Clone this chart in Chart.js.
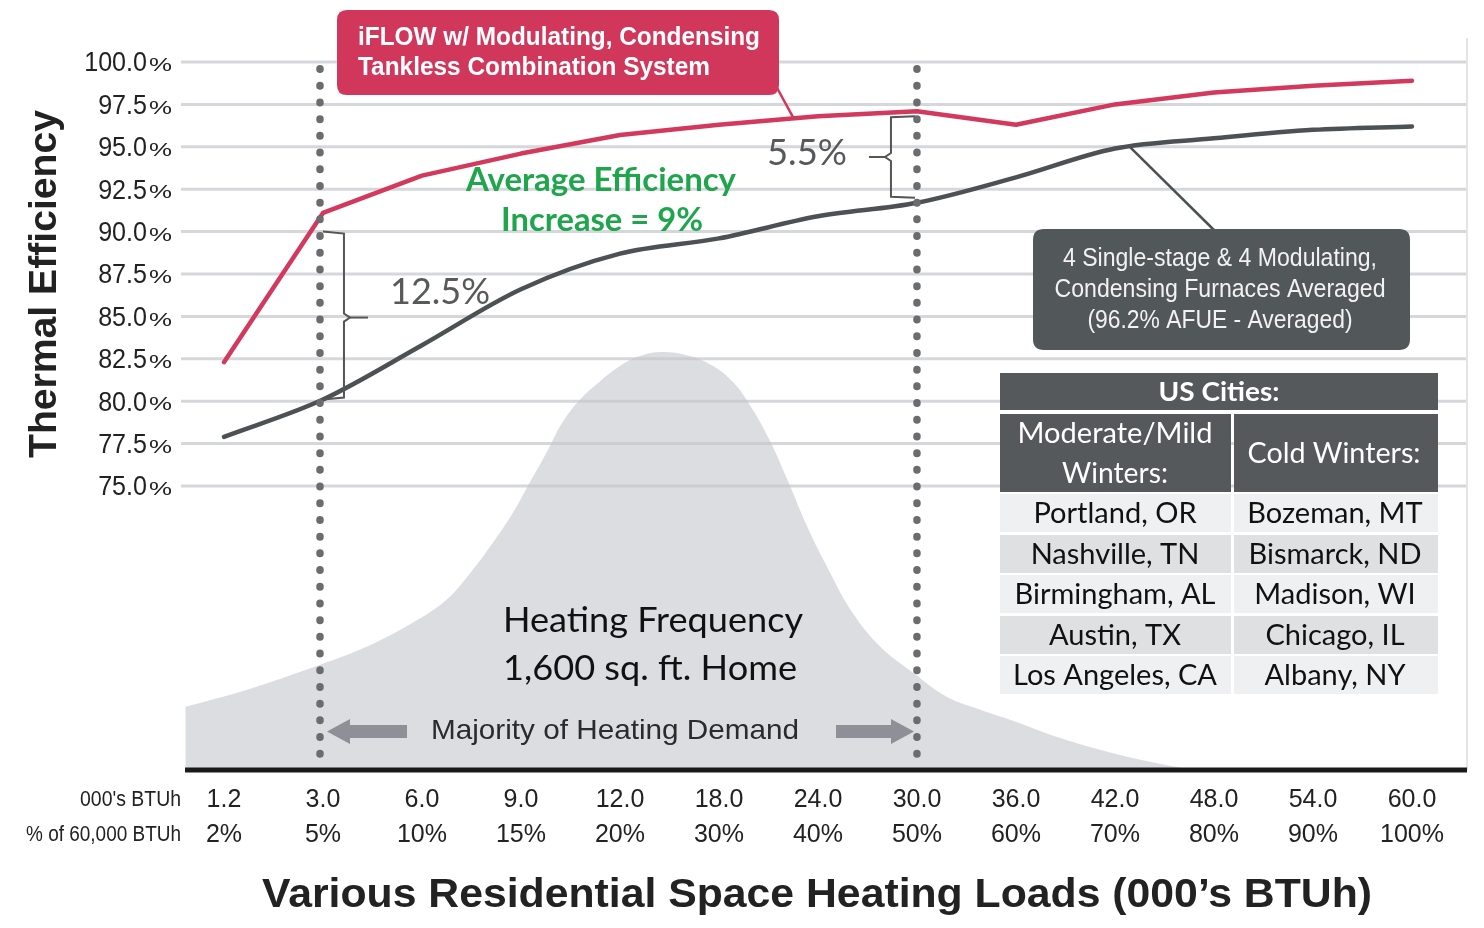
<!DOCTYPE html>
<html><head><meta charset="utf-8">
<script src="https://cdn.jsdelivr.net/npm/chart.js@4.4.1/dist/chart.umd.min.js"></script>
<style>html,body{margin:0;padding:0;background:#fff;overflow:hidden}#wrap{width:1484px;height:928px;position:relative}</style>
</head><body><div id="wrap"><canvas id="c" width="1484" height="928"></canvas></div>
<script>
// ---- data ----
const loadLabels = ['1.2','3.0','6.0','9.0','12.0','18.0','24.0','30.0','36.0','42.0','48.0','54.0','60.0'];
const pctLabels  = ['2%','5%','10%','15%','20%','30%','40%','50%','60%','70%','80%','90%','100%'];
const iflowEff   = [82.3, 91.1, 93.3, 94.6, 95.7, 96.3, 96.8, 97.1, 96.3, 97.5, 98.2, 98.6, 98.9];
const furnaceEff = [77.9, 80.1, 83.3, 86.6, 88.7, 89.6, 90.9, 91.7, 93.2, 94.9, 95.5, 96.0, 96.2];
const yTickValues = [75, 77.5, 80, 82.5, 85, 87.5, 90, 92.5, 95, 97.5, 100];
// heating frequency curve (relative, peak = 100) at category positions
const freqPos    = [-0.39, 0.23, 0.97, 1.44, 1.91, 2.25, 2.49, 2.69, 2.92, 3.09, 3.26, 3.42, 3.60, 3.80, 4.00, 4.20, 4.43, 4.71, 4.94, 5.11, 5.26, 5.49, 5.69, 5.89, 6.09, 6.35, 6.63, 6.96, 7.30, 7.64, 7.94, 8.44, 9.05, 9.62, 9.76];
const freqValues = [15.1, 19.2, 25.2, 29.5, 35.3, 40.8, 47.2, 53.5, 61.6, 68.8, 76.0, 83.2, 88.7, 93.0, 96.6, 99.0, 100, 99.0, 96.6, 93.5, 89.2, 79.9, 69.5, 58.3, 48.7, 37.6, 29.5, 23.3, 17.5, 14.4, 12.0, 7.7, 3.6, 0.7, 0];
const dividerIdx = [0.97, 7];
const gap12 = [1, 80.1, 90.0];   // position, low, high
const gap55 = [7, 91.7, 97.1];
const moderateCities = ['Portland, OR','Nashville, TN','Birmingham, AL','Austin, TX','Los Angeles, CA'];
const coldCities     = ['Bozeman, MT','Bismarck, ND','Madison, WI','Chicago, IL','Albany, NY'];

const SANS = '"Liberation Sans", Arial, sans-serif';
const CAL = 'Lato, "Open Sans", sans-serif';

function txt(ctx, s, x, y, font, color, align, fitW){
  ctx.save(); ctx.font = font; ctx.fillStyle = color; ctx.textBaseline = 'middle';
  ctx.textAlign = align || 'center';
  ctx.translate(x, y);
  if (fitW) { const w = ctx.measureText(s).width; ctx.scale(fitW / w, 1); }
  ctx.fillText(s, 0, 0);
  ctx.restore();
}
function rrect(ctx, x, y, w, h, r, fill){
  ctx.save(); ctx.beginPath();
  ctx.moveTo(x+r, y); ctx.lineTo(x+w-r, y); ctx.quadraticCurveTo(x+w, y, x+w, y+r);
  ctx.lineTo(x+w, y+h-r); ctx.quadraticCurveTo(x+w, y+h, x+w-r, y+h);
  ctx.lineTo(x+r, y+h); ctx.quadraticCurveTo(x, y+h, x, y+h-r);
  ctx.lineTo(x, y+r); ctx.quadraticCurveTo(x, y, x+r, y);
  ctx.closePath(); ctx.fillStyle = fill; ctx.fill(); ctx.restore();
}
function line(ctx, pts, color, w){
  ctx.save(); ctx.beginPath(); ctx.moveTo(pts[0][0], pts[0][1]);
  for (let i = 1; i < pts.length; i++) ctx.lineTo(pts[i][0], pts[i][1]);
  ctx.strokeStyle = color; ctx.lineWidth = w; ctx.lineJoin = 'miter'; ctx.stroke(); ctx.restore();
}

const decor = {
  id: 'decor',
  beforeDatasetsDraw(chart){
    const ctx = chart.ctx, ca = chart.chartArea, ys = chart.scales.y;
    ctx.save();
    ctx.strokeStyle = '#d6d7da'; ctx.lineWidth = 3;
    yTickValues.forEach(v => {
      const y = ys.getPixelForValue(v);
      ctx.beginPath(); ctx.moveTo(ca.left, y); ctx.lineTo(ca.right, y); ctx.stroke();
    });
    ctx.strokeStyle = '#e4e4e4'; ctx.lineWidth = 2;
    ctx.beginPath(); ctx.moveTo(ca.right, ca.top - 2); ctx.lineTo(ca.right, ca.bottom); ctx.stroke();
    ctx.restore();
  },
  afterDatasetsDraw(chart){
    const ctx = chart.ctx, ca = chart.chartArea, xs = chart.scales.x, ys = chart.scales.y;
    // dotted dividers
    ctx.save();
    ctx.strokeStyle = '#6b6c6f'; ctx.lineWidth = 7.5; ctx.lineCap = 'round'; ctx.setLineDash([0.5, 16.2]);
    dividerIdx.forEach(i => {
      const x = xs.getPixelForValue(i);
      ctx.beginPath(); ctx.moveTo(x, ys.getPixelForValue(99.6)); ctx.lineTo(x, ca.bottom - 6); ctx.stroke();
    });
    ctx.restore();
    // baseline
    line(ctx, [[ca.left + 4, ca.bottom], [ca.right, ca.bottom]], '#1a1a1a', 5);

    // y tick labels
    yTickValues.forEach(v => {
      const y = ys.getPixelForValue(v) + 2;
      txt(ctx, '%', 172, y + 2, '19px ' + SANS, '#222', 'right', 23);
      ctx.save(); ctx.font = '27px ' + SANS;
      const s = v.toFixed(1); const w = ctx.measureText(s).width; ctx.restore();
      txt(ctx, s, 147 - w * 0.93, y, '27px ' + SANS, '#222', 'left', w * 0.93);
    });
    // x tick labels
    loadLabels.forEach((s, i) => {
      const x = xs.getPixelForValue(i);
      txt(ctx, s, x, 800, '25px ' + SANS, '#222', 'center');
      txt(ctx, pctLabels[i], x, 835, '25px ' + SANS, '#222', 'center');
    });
    txt(ctx, "000's BTUh", 181, 800, '22px ' + SANS, '#222', 'right', 101);
    txt(ctx, '% of 60,000 BTUh', 181, 835, '22px ' + SANS, '#222', 'right', 155);
    // axis titles
    txt(ctx, "Various Residential Space Heating Loads (000\u2019s BTUh)", 817, 896, 'bold 40px ' + SANS, '#222', 'center', 1110);
    ctx.save(); ctx.translate(46, 284); ctx.rotate(-Math.PI / 2);
    txt(ctx, 'Thermal Efficiency', 0, 0, 'bold 38px ' + SANS, '#222', 'center', 348);
    ctx.restore();

    // red label box
    line(ctx, [[776, 86], [793, ys.getPixelForValue(97.1) + 6]], '#d1375b', 2.5);
    rrect(ctx, 337, 10, 442, 85, 10, '#d1375b');
    txt(ctx, 'iFLOW w/ Modulating, Condensing', 358, 38, 'bold 26px ' + SANS, '#fff', 'left', 402);
    txt(ctx, 'Tankless Combination System', 358, 68, 'bold 26px ' + SANS, '#fff', 'left', 352);

    // green text
    txt(ctx, 'Average Efficiency', 601, 180, 'bold 33px ' + CAL, '#1fa64c', 'center', 270);
    txt(ctx, 'Increase = 9%', 602, 220, 'bold 33px ' + CAL, '#1fa64c', 'center', 202);

    // brace 12.5%
    {
      const x0 = xs.getPixelForValue(gap12[0]);
      const yt = ys.getPixelForValue(gap12[2]), yb = ys.getPixelForValue(gap12[1]);
      const ym = (yt + yb) / 2 + 2;
      line(ctx, [[x0, yt], [x0 + 21, yt + 2], [x0 + 21, ym - 4], [x0 + 27, ym], [x0 + 21, ym + 4], [x0 + 21, yb - 2], [x0, yb]], '#555', 2);
      line(ctx, [[x0 + 27, ym], [x0 + 45, ym]], '#555', 2);
      txt(ctx, '12.5%', 440, 292, '36px ' + CAL, '#58595b', 'center', 100);
    }
    // brace 5.5%
    {
      const x0 = xs.getPixelForValue(gap55[0]);
      const yt = ys.getPixelForValue(gap55[2]) + 5, yb = ys.getPixelForValue(gap55[1]) - 5;
      const ym = (yt + yb) / 2;
      line(ctx, [[x0 - 2, yt], [x0 - 26, yt + 1], [x0 - 26, ym - 4], [x0 - 32, ym], [x0 - 26, ym + 4], [x0 - 26, yb - 1], [x0 - 2, yb]], '#555', 2);
      line(ctx, [[x0 - 32, ym], [x0 - 48, ym]], '#555', 2);
      txt(ctx, '5.5%', 807, 153, '36px ' + CAL, '#58595b', 'center', 80);
    }

    // dark furnace label box
    line(ctx, [[1215, 231], [xs.getPixelForValue(9.15), ys.getPixelForValue(95.0)]], '#4b5053', 2.5);
    rrect(ctx, 1033, 229, 377, 121, 11, '#52575a');
    txt(ctx, '4 Single-stage & 4 Modulating,', 1220, 259, '25px ' + SANS, '#f2f2f2', 'center', 314);
    txt(ctx, 'Condensing Furnaces Averaged', 1220, 290, '25px ' + SANS, '#f2f2f2', 'center', 331);
    txt(ctx, '(96.2% AFUE - Averaged)', 1220, 321, '25px ' + SANS, '#f2f2f2', 'center', 265);

    // table
    const tx0 = 1000, tx1 = 1438, split = 1231;
    ctx.save();
    ctx.fillStyle = '#55595c';
    ctx.fillRect(tx0, 373, tx1 - tx0, 37);
    ctx.fillRect(tx0, 414, split - tx0, 78);
    ctx.fillRect(split + 3, 414, tx1 - split - 3, 78);
    const rowTops = [494, 535, 575, 616, 656];
    rowTops.forEach((t, r) => {
      ctx.fillStyle = r % 2 === 0 ? '#eff0f1' : '#dfe0e2';
      ctx.fillRect(tx0, t, split - tx0, 38);
      ctx.fillRect(split + 3, t, tx1 - split - 3, 38);
    });
    ctx.restore();
    txt(ctx, 'US Cities:', 1219, 392, 'bold 27px ' + CAL, '#fff', 'center', 121);
    txt(ctx, 'Moderate/Mild', 1115, 434, '28px ' + CAL, '#fff', 'center', 195);
    txt(ctx, 'Winters:', 1115, 474, '28px ' + CAL, '#fff', 'center', 106);
    txt(ctx, 'Cold Winters:', 1334, 454, '28px ' + CAL, '#fff', 'center', 173);
    rowTops.forEach((t, r) => {
      txt(ctx, moderateCities[r], 1115, t + 20, '29px ' + CAL, '#111', 'center');
      txt(ctx, coldCities[r], 1335, t + 20, '29px ' + CAL, '#111', 'center');
    });

    // heating frequency labels
    txt(ctx, 'Heating Frequency', 653, 621, '34px ' + CAL, '#111', 'center', 300);
    txt(ctx, '1,600 sq. ft. Home', 650, 669, '34px ' + CAL, '#111', 'center', 294);
    // majority arrows
    ctx.save(); ctx.fillStyle = '#8d9197';
    ctx.fillRect(348, 725, 59, 13);
    ctx.beginPath(); ctx.moveTo(327, 731.5); ctx.lineTo(350, 719); ctx.lineTo(350, 744); ctx.closePath(); ctx.fill();
    ctx.fillRect(836, 725, 58, 13);
    ctx.beginPath(); ctx.moveTo(914, 731.5); ctx.lineTo(891, 719); ctx.lineTo(891, 744); ctx.closePath(); ctx.fill();
    ctx.restore();
    txt(ctx, 'Majority of Heating Demand', 615, 731, '28px ' + SANS, '#2b2b2b', 'center', 368);
  }
};

new Chart(document.getElementById('c'), {
  type: 'line',
  data: {
    datasets: [
      { label: 'iFLOW', data: iflowEff.map((v, i) => ({ x: i, y: v })), yAxisID: 'y',
        borderColor: '#d2395d', borderWidth: 4.5, pointRadius: 0, tension: 0, borderCapStyle: 'round', borderJoinStyle: 'round', fill: false },
      { label: 'Furnaces', data: furnaceEff.map((v, i) => ({ x: i, y: v })), yAxisID: 'y',
        borderColor: '#4c5153', borderWidth: 4.5, pointRadius: 0, tension: 0.25, cubicInterpolationMode: 'monotone', borderCapStyle: 'round', borderJoinStyle: 'round', fill: false },
      { label: 'Heating Frequency', data: freqPos.map((p, i) => ({ x: p, y: freqValues[i] })), yAxisID: 'y2',
        borderWidth: 0, borderColor: 'rgba(0,0,0,0)', backgroundColor: 'rgba(196,198,203,0.6)', pointRadius: 0,
        tension: 0.4, fill: 'origin' }
    ]
  },
  options: {
    responsive: false, animation: false, devicePixelRatio: 1,
    layout: { padding: { left: 181, right: 17, top: 40, bottom: 158 } },
    plugins: { legend: { display: false }, tooltip: { enabled: false } },
    scales: {
      x: { type: 'linear', min: -0.434, max: 12.556, display: false },
      y: { type: 'linear', min: 58.255, max: 101.297, display: false },
      y2: { type: 'linear', min: 0, max: 174.6, display: false }
    }
  },
  plugins: [decor]
});
</script>
</body></html>
